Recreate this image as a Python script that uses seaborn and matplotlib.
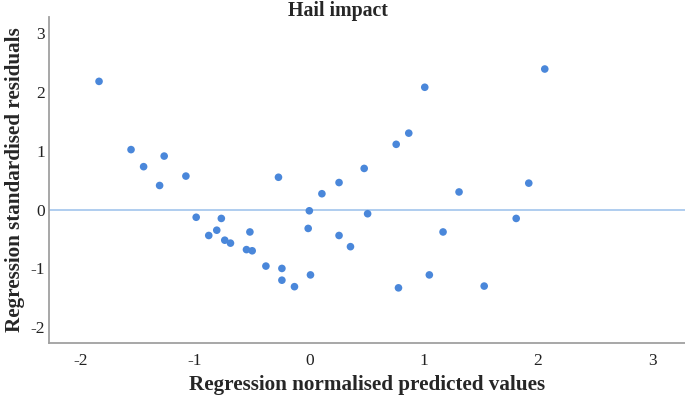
import pandas as pd
import seaborn as sns
import matplotlib.pyplot as plt

# values
predicted = [-1.84, -1.56, -1.45, -1.27, -1.31, -1.08, -0.99, -0.88, -0.81,
             -0.77, -0.74, -0.69, -0.55, -0.50, -0.52, -0.38, -0.27, -0.24,
             -0.24, -0.13, 0.00, -0.01, 0.01, 0.11, 0.26, 0.26, 0.36, 0.48,
             0.51, 0.76, 0.78, 0.87, 1.01, 1.05, 1.17, 1.31, 1.53, 1.81,
             1.92, 2.06]
residuals = [2.18, 1.02, 0.73, 0.91, 0.41, 0.57, -0.13, -0.44, -0.35,
             -0.15, -0.52, -0.57, -0.68, -0.70, -0.38, -0.96, 0.55, -1.00,
             -1.20, -1.31, -0.02, -0.32, -1.11, 0.27, -0.44, 0.46, -0.63,
             0.70, -0.07, 1.11, -1.33, 1.30, 2.08, -1.11, -0.38, 0.30,
             -1.30, -0.15, 0.45, 2.39]
x_ticks = [-2, -1, 0, 1, 2, 3]
y_ticks = [-2, -1, 0, 1, 2, 3]

sns.set_style('white')
plt.rcParams['font.family'] = ['Liberation Serif', 'DejaVu Serif']
plt.rcParams['axes.unicode_minus'] = False

data = pd.DataFrame({'pred': predicted, 'resid': residuals})

fig = plt.figure(figsize=(6.85, 4.01), dpi=100)
ax = fig.add_axes([0.072, 0.144, 0.928, 0.814])

ax.axhline(0, color='#a9c9ee', linewidth=1.3, zorder=1)
sns.scatterplot(data=data, x='pred', y='resid', ax=ax, color='#4a87da',
                s=30, edgecolor='none', zorder=3)

ax.set_xlim(-2.275, 3.287)
ax.set_ylim(-2.272, 3.277)
ax.set_xticks(x_ticks)
ax.set_yticks(y_ticks)
ax.tick_params(axis='both', length=0, labelsize=12.5, colors='#222222')
ax.tick_params(axis='x', pad=7)
ax.tick_params(axis='y', pad=3)

for side in ['top', 'right']:
    ax.spines[side].set_visible(False)
for side in ['left', 'bottom']:
    ax.spines[side].set_color('#a0a0a0')
    ax.spines[side].set_linewidth(1.3)

ax.set_xlabel('Regression normalised predicted values', fontsize=15.2,
              fontweight='bold', labelpad=4)
ax.set_ylabel('Regression standardised residuals', fontsize=15.2,
              fontweight='bold', labelpad=4)
fig.text(0.494, 0.998, 'Hail impact', ha='center', va='top', fontsize=14.3,
         fontweight='bold')

fig.savefig('out.png', dpi=100)
